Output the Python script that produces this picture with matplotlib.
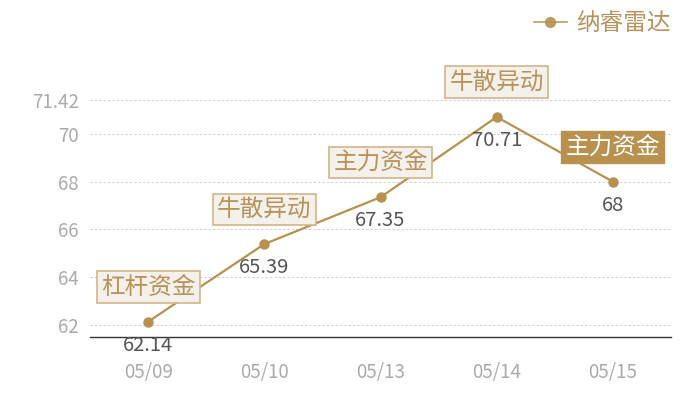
import numpy as np
import matplotlib.pyplot as plt
from matplotlib.lines import Line2D

plt.rcParams['font.family'] = ['Noto Sans CJK SC', 'DejaVu Sans']

#%% data
dates = ['05/09', '05/10', '05/13', '05/14', '05/15']
values = [62.14, 65.39, 67.35, 70.71, 68]
tags = ['杠杆资金', '牛散异动', '主力资金', '牛散异动', '主力资金']
tag_filled = [False, False, False, False, True]
yticks = [62, 64, 66, 68, 70, 71.42]
series_name = '纳睿雷达'

gold = '#b8914f'
tag_text = '#b8925a'
tag_face = '#f4f0ea'
tag_edge = '#d2b58a'

#%% plot
fig = plt.figure(figsize=(7, 4), dpi=100)
ax = fig.add_axes([0.1286, 0.1575, 0.83, 0.5925])

x = np.arange(len(dates))
ax.plot(x, values, color=gold, lw=1.6, marker='o', ms=6.5, zorder=3)

ax.set_xlim(-0.5, len(dates) - 0.5)
ax.set_ylim(61.5, 71.42)
ax.set_yticks(yticks)
ax.set_yticklabels([f'{t:g}' for t in yticks])
ax.set_xticks(x)
ax.set_xticklabels(dates)
ax.tick_params(axis='both', length=0, labelsize=13.5, colors='#aaaaaa')
ax.tick_params(axis='x', pad=18)
ax.tick_params(axis='y', pad=8)

for t in yticks:
    ax.axhline(t, color='#d0d0d0', lw=0.7, ls=(0, (2.5, 2)), zorder=1)

for s in ['top', 'right', 'left']:
    ax.spines[s].set_visible(False)
ax.spines['bottom'].set_color('#333333')
ax.spines['bottom'].set_linewidth(1)

for xi, v, tag, filled in zip(x, values, tags, tag_filled):
    ax.annotate(f'{v:g}', (xi, v), xytext=(0, -17), textcoords='offset points',
                ha='center', va='center', fontsize=14.5, color='#555555', zorder=4)
    if filled:
        box = dict(boxstyle='square,pad=0.18', fc=gold, ec=gold, lw=1)
        tc = 'white'
    else:
        box = dict(boxstyle='square,pad=0.18', fc=tag_face, ec=tag_edge, lw=1.2)
        tc = tag_text
    ax.annotate(tag, (xi, v), xytext=(0, 25), textcoords='offset points',
                ha='center', va='center', fontsize=17, color=tc, bbox=box, zorder=5)

handle = Line2D([], [], color=gold, lw=1.2, marker='o', ms=7, alpha=0.9)
fig.legend([handle], [series_name], loc='upper right', bbox_to_anchor=(0.975, 1.0),
           frameon=False, fontsize=17, labelcolor=tag_text, handlelength=1.4,
           handletextpad=0.4, borderaxespad=0.1)

fig.savefig('out.png', dpi=100)
